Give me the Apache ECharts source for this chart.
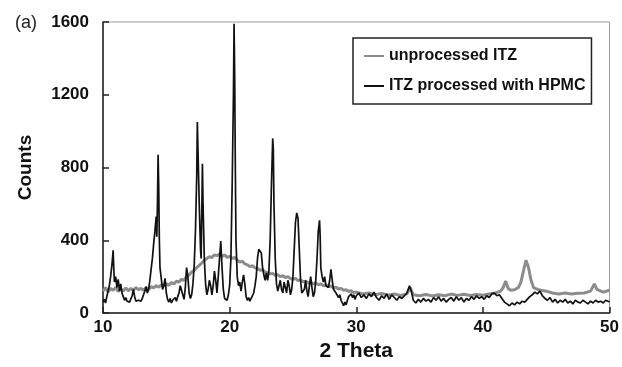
<!DOCTYPE html>
<html>
<head>
<meta charset="utf-8">
<script src="https://cdn.jsdelivr.net/npm/echarts@6/dist/echarts.min.js"></script>
<style>
  html, body { margin: 0; padding: 0; background: #fff; }
  #chart { width: 622px; height: 367px; }
</style>
</head>
<body>
<div id="chart"></div>
<script>
// 2 Theta positions / counts
let xTicks = [10, 20, 30, 40, 50];
let yTicks = [0, 400, 800, 1200, 1600];
let seriesNames = ['unprocessed ITZ', 'ITZ processed with HPMC'];

let grayTheta = [10.0,10.2,10.4,10.6,10.8,11.0,11.2,11.4,11.6,11.8,12.0,12.2,12.4,12.6,12.8,13.0,13.2,13.4,13.6,13.8,
  14.0,14.2,14.4,14.6,14.8,15.0,15.2,15.4,15.6,15.8,16.0,16.2,16.4,16.6,16.8,17.0,17.2,17.4,17.6,17.8,
  18.0,18.2,18.4,18.6,18.8,19.0,19.2,19.4,19.6,19.8,20.0,20.2,20.4,20.6,20.8,21.0,21.2,21.4,21.6,21.8,
  22.0,22.2,22.4,22.6,22.8,23.0,23.2,23.4,23.6,23.8,24.0,24.2,24.4,24.6,24.8,25.0,25.2,25.4,25.6,25.8,
  26.0,26.2,26.4,26.6,26.8,27.0,27.2,27.4,27.6,27.8,28.0,28.2,28.4,28.6,28.8,29.0,29.2,29.4,29.6,29.8,
  30.0,30.5,31.0,31.5,32.0,32.5,33.0,33.5,34.0,34.25,34.5,35.0,35.5,36.0,36.5,37.0,37.5,38.0,38.5,39.0,
  39.5,40.0,40.5,41.0,41.4,41.6,41.8,42.0,42.2,42.5,42.8,43.0,43.2,43.4,43.6,43.8,44.0,44.3,44.6,45.0,
  45.5,46.0,46.5,47.0,47.5,48.0,48.5,48.8,49.0,49.5,50.0];
let grayCounts = [120,140,115,135,125,140,118,132,120,138,122,135,125,140,128,135,125,140,130,145,
  138,150,142,155,148,160,152,168,160,175,170,185,180,200,210,225,235,250,262,275,
  290,300,310,305,320,315,325,310,320,305,312,300,305,290,280,285,270,265,255,260,
  248,245,235,238,225,222,215,218,208,210,200,205,195,200,190,185,190,178,182,172,
  175,165,170,160,165,155,160,150,155,145,148,138,142,132,135,125,128,118,122,112,
  115,105,110,100,108,98,104,96,105,140,100,95,102,94,100,95,104,97,103,96,
  102,98,105,110,120,140,175,135,125,128,140,170,230,290,250,180,140,130,125,120,
  110,105,110,104,108,110,120,160,130,115,125];

let blackTheta = [10.0,10.1,10.2,10.3,10.4,10.5,10.6,10.7,10.8,10.85,10.9,11.0,11.1,11.2,11.3,11.4,11.5,11.6,11.7,11.8,
  11.9,12.0,12.1,12.2,12.3,12.4,12.5,12.6,12.7,12.8,12.9,13.0,13.1,13.2,13.3,13.4,13.5,13.6,13.7,13.8,
  13.9,14.0,14.1,14.2,14.25,14.3,14.35,14.4,14.45,14.5,14.6,14.7,14.8,14.9,15.0,15.1,15.2,15.3,15.4,15.5,
  15.6,15.7,15.8,15.9,16.0,16.1,16.2,16.3,16.4,16.5,16.6,16.7,16.8,16.9,17.0,17.1,17.2,17.3,17.4,17.45,
  17.5,17.6,17.7,17.75,17.8,17.85,17.9,18.0,18.1,18.2,18.3,18.4,18.5,18.6,18.7,18.8,18.9,19.0,19.1,19.2,
  19.3,19.35,19.4,19.5,19.6,19.7,19.8,19.9,20.0,20.1,20.2,20.3,20.35,20.4,20.45,20.5,20.6,20.7,20.8,20.9,
  21.0,21.1,21.2,21.3,21.4,21.5,21.6,21.7,21.8,21.9,22.0,22.1,22.2,22.3,22.4,22.5,22.6,22.7,22.8,22.9,
  23.0,23.1,23.2,23.3,23.4,23.45,23.5,23.6,23.7,23.8,23.9,24.0,24.1,24.2,24.3,24.4,24.5,24.6,24.7,24.8,
  24.9,25.0,25.1,25.2,25.3,25.4,25.5,25.6,25.7,25.8,25.9,26.0,26.1,26.2,26.3,26.4,26.5,26.6,26.7,26.8,
  26.9,27.0,27.1,27.15,27.2,27.3,27.4,27.5,27.6,27.7,27.8,27.9,28.0,28.1,28.2,28.3,28.4,28.5,28.6,28.7,
  28.8,28.9,29.0,29.1,29.2,29.3,29.4,29.5,29.6,29.7,29.8,29.9,30.0,30.2,30.4,30.6,30.8,31.0,31.2,31.4,
  31.6,31.8,32.0,32.2,32.4,32.6,32.8,33.0,33.2,33.4,33.6,33.8,34.0,34.2,34.35,34.5,34.7,34.9,35.1,35.3,
  35.5,35.7,35.9,36.1,36.3,36.5,36.7,36.9,37.1,37.3,37.5,37.7,37.9,38.1,38.3,38.5,38.7,38.9,39.1,39.3,
  39.5,39.7,39.9,40.1,40.3,40.5,40.7,40.9,41.1,41.3,41.5,41.7,41.9,42.1,42.3,42.5,42.7,42.9,43.1,43.3,
  43.5,43.7,43.9,44.1,44.3,44.5,44.7,44.9,45.1,45.3,45.5,45.7,45.9,46.1,46.3,46.5,46.7,46.9,47.1,47.3,
  47.5,47.7,47.9,48.1,48.3,48.5,48.7,48.9,49.1,49.3,49.5,49.7,50.0];
let blackCounts = [60,75,55,90,120,150,200,260,345,250,170,200,140,185,120,160,110,90,70,85,
  65,75,60,70,95,130,90,65,55,70,60,65,80,100,120,145,110,130,180,240,
  300,380,450,530,420,600,870,700,400,250,190,130,150,190,110,75,60,80,55,70,
  60,85,65,90,110,150,155,100,75,140,250,200,110,80,100,160,260,450,750,1050,
  900,600,350,300,550,820,600,300,160,100,130,180,150,100,150,230,180,110,200,300,
  395,320,250,130,80,90,70,100,150,300,700,1200,1590,1300,800,400,200,150,170,120,
  170,210,160,90,70,85,65,80,70,110,150,200,300,350,340,330,250,210,180,220,
  180,230,400,700,960,900,600,300,160,120,150,180,130,110,170,140,110,180,150,100,
  130,200,350,500,550,520,350,180,110,100,130,180,120,90,150,200,140,90,110,180,
  300,450,510,420,250,200,170,200,150,160,140,180,240,180,130,140,110,120,85,100,
  70,55,40,60,45,70,90,80,105,85,100,75,95,110,85,100,80,105,90,115,
  85,70,95,80,105,75,100,85,70,90,80,95,110,150,120,70,55,75,60,80,
  65,75,60,85,70,90,65,80,60,75,85,65,90,70,85,60,80,70,90,75,
  95,80,90,75,95,85,105,110,95,100,80,60,50,40,55,45,60,50,65,60,
  75,90,100,115,105,120,95,80,70,85,60,75,55,70,60,75,55,65,50,70,
  60,55,70,60,50,65,55,70,60,65,55,70,60];

let grayData = grayTheta.map((t, i) => [t, grayCounts[i]]);
let blackData = blackTheta.map((t, i) => [t, blackCounts[i]]);

let myChart = echarts.init(document.getElementById('chart'));
let font = 'Liberation Sans, Arial, sans-serif';
let labelFont = { color: '#111', fontSize: 17, fontWeight: 'bold', fontFamily: font };

let option = {
  animation: false,
  backgroundColor: '#fff',
  grid: {
    left: 103, right: 12, top: 22, bottom: 52,
    show: true, borderColor: '#9a9a9a', borderWidth: 1
  },
  title: {
    text: '(a)', left: 10, top: 9,
    textStyle: { color: '#222', fontSize: 18, fontWeight: 'normal', fontFamily: font }
  },
  legend: {
    orient: 'vertical',
    left: 353, top: 38,
    padding: [10, 6, 10, 11],
    itemGap: 14,
    itemWidth: 20, itemHeight: 2,
    icon: 'rect',
    borderColor: '#222', borderWidth: 1.5,
    data: seriesNames,
    textStyle: { color: '#111', fontSize: 16, fontWeight: 'bold', fontFamily: font }
  },
  xAxis: {
    type: 'value', min: 10, max: 50, interval: 10,
    name: '2 Theta', nameLocation: 'middle', nameGap: 28,
    nameTextStyle: { color: '#111', fontSize: 21, fontWeight: 'bold', fontFamily: font },
    axisLine: { lineStyle: { color: '#222', width: 1.5 } },
    axisTick: { inside: true, length: 6, lineStyle: { color: '#222', width: 1.5 } },
    axisLabel: Object.assign({ margin: 6, customValues: xTicks, formatter: v => String(v) }, labelFont),
    splitLine: { show: false }
  },
  yAxis: {
    type: 'value', min: 0, max: 1600, interval: 400,
    name: 'Counts', nameLocation: 'middle', nameGap: 68,
    nameTextStyle: { color: '#111', fontSize: 19, fontWeight: 'bold', fontFamily: font },
    axisLine: { show: true, lineStyle: { color: '#222', width: 1.5 } },
    axisTick: { show: true, inside: true, length: 6, lineStyle: { color: '#222', width: 1.5 } },
    axisLabel: Object.assign({ margin: 14, customValues: yTicks, formatter: v => String(v) }, labelFont),
    splitLine: { show: false }
  },
  series: [
    {
      name: seriesNames[0], type: 'line', data: grayData,
      showSymbol: false, symbol: 'none',
      lineStyle: { color: '#8c8c8c', width: 3 },
      itemStyle: { color: '#8c8c8c' }, z: 2
    },
    {
      name: seriesNames[1], type: 'line', data: blackData,
      showSymbol: false, symbol: 'none',
      lineStyle: { color: '#111', width: 1.7 },
      itemStyle: { color: '#111' }, z: 3
    }
  ]
};

myChart.setOption(option, true);
window.addEventListener('resize', () => {
  myChart.resize();
});
</script>
</body>
</html>
